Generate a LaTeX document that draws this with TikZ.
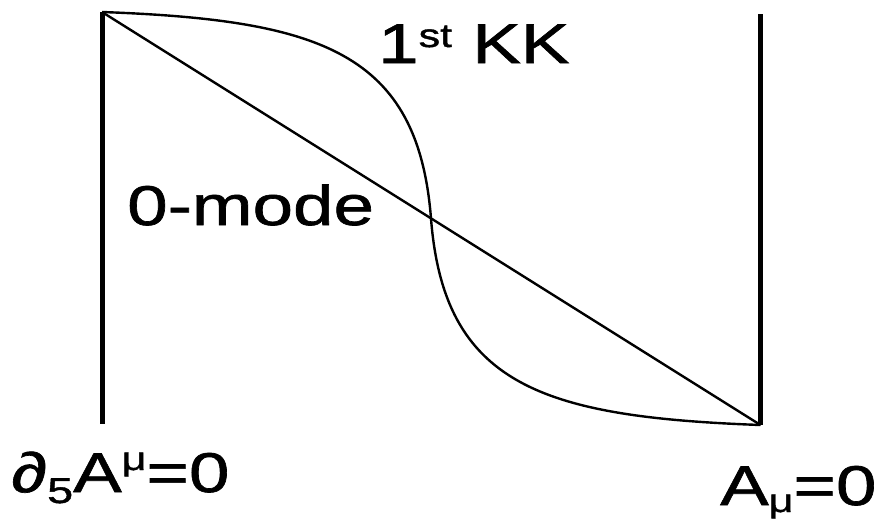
\documentclass[tikz,border=0pt]{standalone}
\usepackage{fontspec}
\setmainfont{Liberation Sans}
\newfontfamily\lab[FakeStretch=1.3,FakeBold=1.2]{Liberation Sans}
\begin{document}
\begin{tikzpicture}[x=1pt,y=-1pt,
  wall/.style={line width=5pt},
  wave/.style={line width=2.4pt, line join=round},
  lbl/.style={anchor=base west, inner sep=0pt, font=\lab\fontsize{56}{60}\selectfont}]
\useasboundingbox (0,0) rectangle (886,520);
\coordinate (TL) at (102,12);
\coordinate (BL) at (102,424);
\coordinate (TR) at (760.5,14);
\coordinate (BR) at (760.5,425);
\coordinate (M) at (431,218.5);
\draw[wall] (TL) -- (BL);
\draw[wall] (TR) -- (BR);
\draw[wave] (TL) -- (BR);
\draw[wave] (TL) .. controls (320,20) and (418,52) .. (M)
                 .. controls (444,385) and (542,417) .. (BR);
\node[lbl] (kk) at (378,63) {1\raisebox{16pt}{\fontsize{33}{36}\selectfont st} KK};
\node[lbl] (zero) at (127,225) {0-mode};
\node[lbl] (lbc) at (11,492) {∂\raisebox{-11pt}{\fontsize{36}{40}\selectfont 5}A\raisebox{22pt}{\fontsize{33}{36}\selectfont μ}=0};
\node[lbl] (rbc) at (720,505) {A\raisebox{-7pt}{\fontsize{33}{36}\selectfont μ}=0};
\end{tikzpicture}
\end{document}
